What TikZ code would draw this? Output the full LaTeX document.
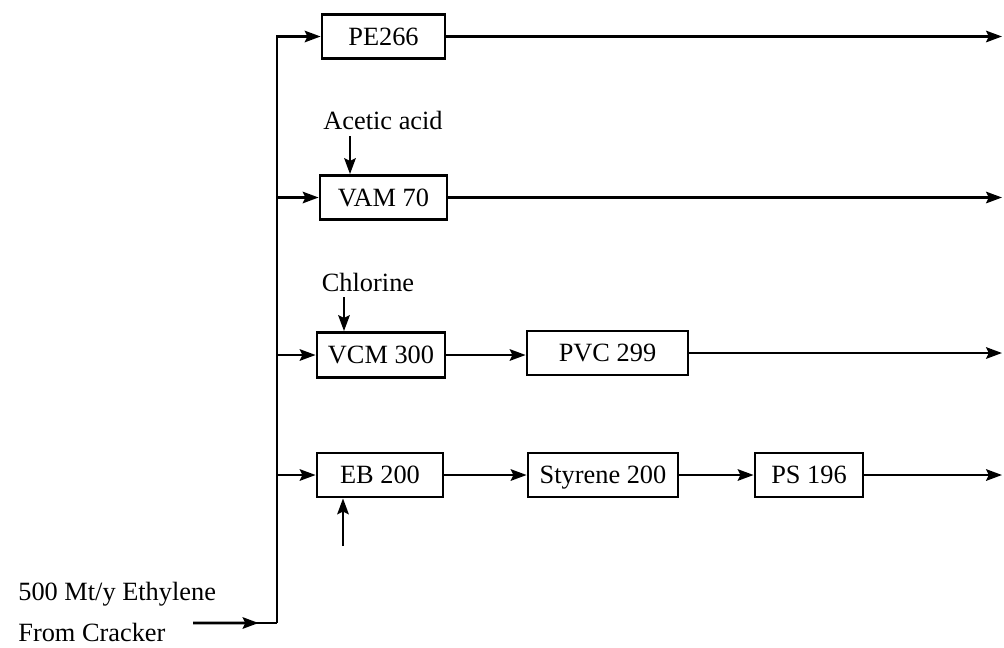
\documentclass[tikz,border=0pt]{standalone}
\usepackage{fontspec}
\setmainfont{Liberation Serif}
\usepackage{tikz}
\usetikzlibrary{positioning, arrows.meta, calc}

\begin{document}
\begin{tikzpicture}[
    x=0.02cm, y=-0.02cm,
    unit/.style={rectangle, draw=black, line width=1.6pt, minimum height=0.88cm, inner sep=2pt, text height=11pt, text depth=1pt, font=\fontsize{15}{18}\selectfont},
    label/.style={inner sep=0pt, font=\fontsize{15}{18}\selectfont},
    flow/.style={-{Stealth[length=9pt, width=6.5pt, inset=1.5pt]}, line width=1.5pt},
    line/.style={line width=1.5pt}
]
\useasboundingbox (0,0) rectangle (1004,647);

% Units
\node[unit, minimum width=2.46cm] (PE) at (383.5,36.5) {PE266};
\node[unit, minimum width=2.54cm] (VAM) at (383.5,197.5) {VAM 70};
\node[unit, minimum width=2.56cm, minimum height=0.9cm] (VCM) at (381,355) {VCM 300};
\node[unit, minimum width=3.22cm] (PVC) at (607.5,353) {PVC 299};
\node[unit, minimum width=2.52cm] (EB) at (380,475) {EB 200};
\node[unit, minimum width=3.0cm] (STY) at (603,475) {Styrene 200};
\node[unit, minimum width=2.16cm] (PS) at (809,475) {PS 196};

% Feed texts
\node[label, anchor=west] (eth) at (18,594) {500 Mt/y Ethylene};
\node[label, anchor=west] (crk) at (18,632) {From Cracker};
\node[label] (acid) at (383,120) {Acetic acid};
\node[label] (chl) at (368,282) {Chlorine};

% Coordinates for free ends
\coordinate (feedin) at (193,623);
\coordinate (corner) at (277,623);
\coordinate (acidin) at (350,136);
\coordinate (chlin) at (344,297);
\coordinate (benzin) at (343,546);
\coordinate (out1) at (1002,36.5);
\coordinate (out2) at (1002,197.5);
\coordinate (out3) at (1002,353);
\coordinate (out4) at (1002,475);

% Ethylene header
\draw[line] (feedin) -- (corner);
\draw[flow] (feedin) -- ($(feedin)!0.78!(corner)$);
\draw[flow] (corner) |- (PE.west);
\draw[flow] (VAM.west -| corner) -- (VAM.west);
\draw[flow] (VCM.west -| corner) -- (VCM.west);
\draw[flow] (EB.west -| corner) -- (EB.west);

% Side feeds
\draw[flow] (acidin) -- (acidin |- VAM.north);
\draw[flow] (chlin) -- (chlin |- VCM.north);
\draw[flow] (benzin) -- (benzin |- EB.south);

% Chains
\draw[flow] (VCM) -- (VCM.east -| PVC.west);
\draw[flow] (EB) -- (STY);
\draw[flow] (STY) -- (PS);

% Products
\draw[flow] (PE.east) -- (out1);
\draw[flow] (VAM.east) -- (out2);
\draw[flow] (PVC.east) -- (out3);
\draw[flow] (PS.east) -- (out4);
\end{tikzpicture}
\end{document}
